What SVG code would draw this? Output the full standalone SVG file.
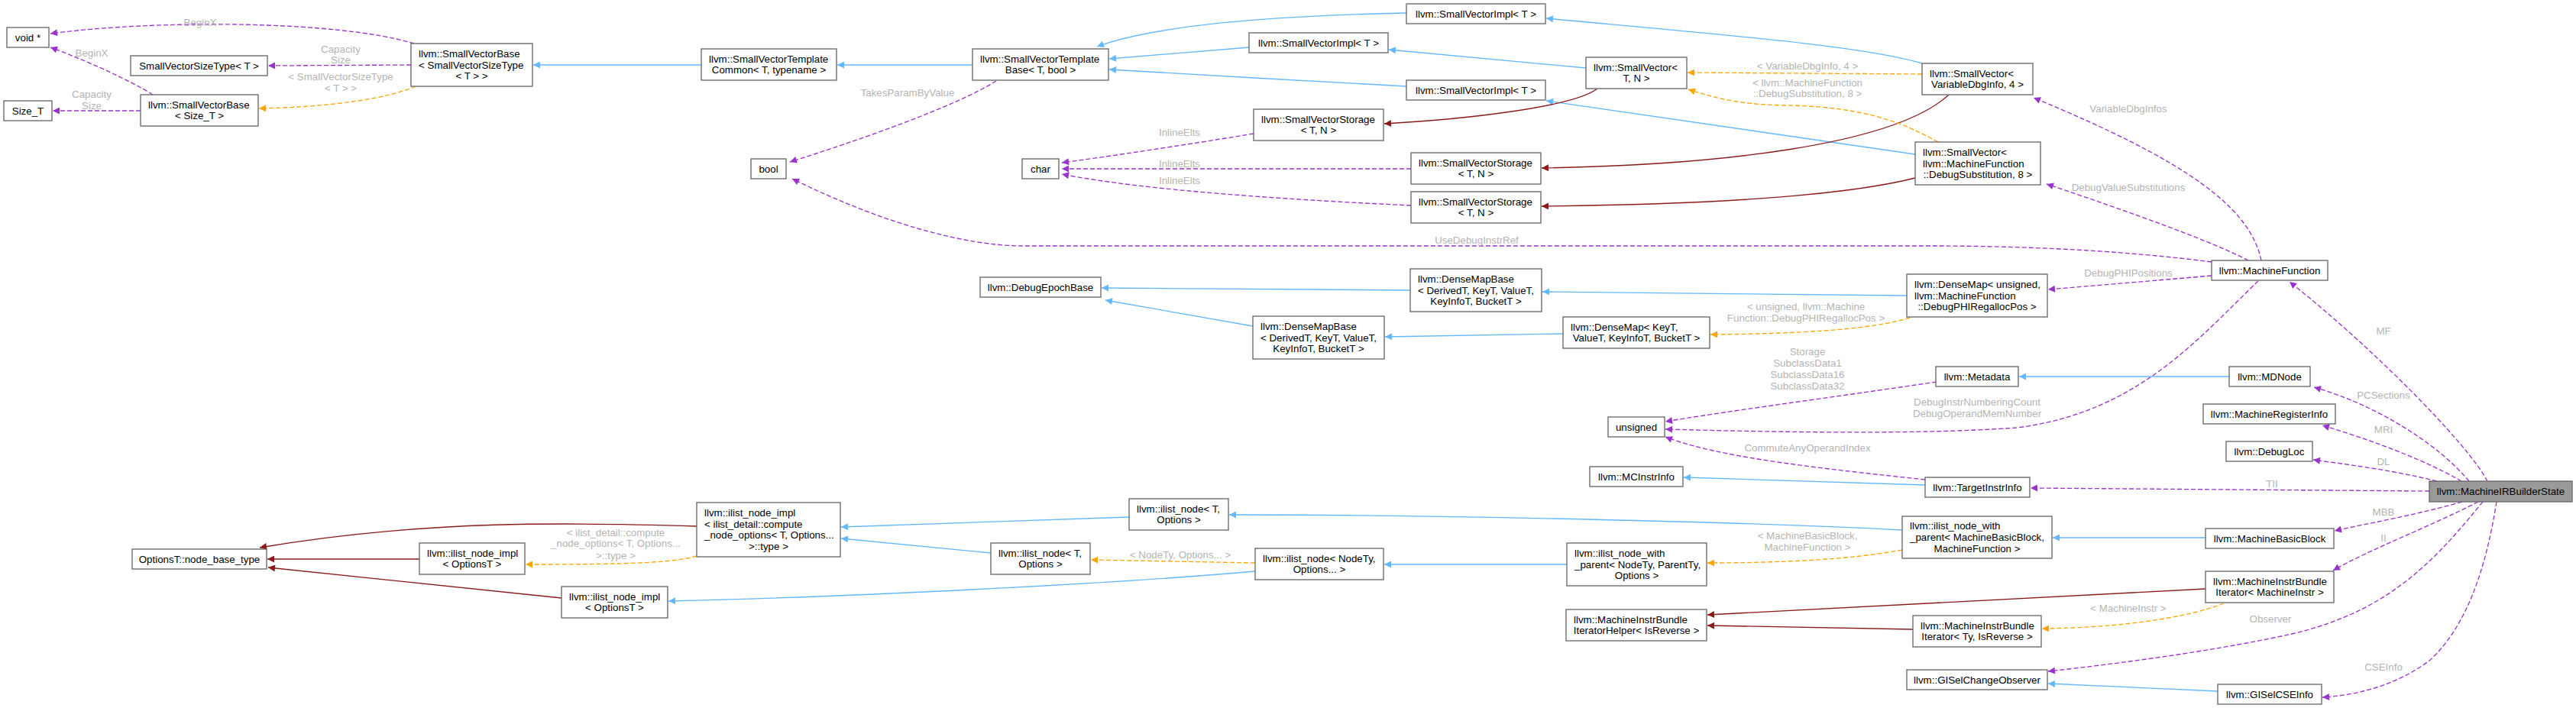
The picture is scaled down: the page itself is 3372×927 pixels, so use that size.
<svg xmlns="http://www.w3.org/2000/svg" width="3372" height="927" viewBox="0 0 3372 927">
<style>
text{font-family:"Liberation Sans",Arial,Helvetica,sans-serif;font-size:13.33px;fill:#000}
.c{text-anchor:middle}
.l{fill:#b4b4b4;text-anchor:middle}
.n rect{fill:#fff;stroke:#666;stroke-width:1.33}
#root rect{fill:#999}
#edges path{fill:none;stroke-width:1.33}
.b{stroke:#63b8ff;marker-end:url(#mb)}
.r{stroke:#8b1a1a;marker-end:url(#mr)}
.o{stroke:#ffa500;stroke-dasharray:6,3;marker-end:url(#mo)}
.p{stroke:#9a32cd;stroke-dasharray:6,3;marker-end:url(#mp)}
</style>
<defs>
<marker id="mb" viewBox="0 0 10 10" refX="10" refY="5" markerWidth="13" markerHeight="9" markerUnits="userSpaceOnUse" orient="auto"><path d="M0,0L10,5L0,10z" fill="#63b8ff"/></marker>
<marker id="mr" viewBox="0 0 10 10" refX="10" refY="5" markerWidth="13" markerHeight="9" markerUnits="userSpaceOnUse" orient="auto"><path d="M0,0L10,5L0,10z" fill="#8b1a1a"/></marker>
<marker id="mo" viewBox="0 0 10 10" refX="10" refY="5" markerWidth="13" markerHeight="9" markerUnits="userSpaceOnUse" orient="auto"><path d="M0,0L10,5L0,10z" fill="#ffa500"/></marker>
<marker id="mp" viewBox="0 0 10 10" refX="10" refY="5" markerWidth="13" markerHeight="9" markerUnits="userSpaceOnUse" orient="auto"><path d="M0,0L10,5L0,10z" fill="#9a32cd"/></marker>
</defs>
<rect width="3372" height="927" fill="#fff"/>
<g id="edges">
<path class="p" d="M542,57 C440,26 200,26 66,44"/><text class="l" x="262" y="33.5">BeginX</text>
<path class="p" d="M200,124 C170,105 110,78 66,62"/><text class="l" x="120" y="73.5">BeginX</text>
<path class="p" d="M538,85 L351,86"/><text class="l" x="446" y="68.5">Capacity</text><text class="l" x="446" y="83.2">Size</text>
<path class="o" d="M544,113 C505,130 430,140 339,142"/><text class="l" x="446" y="104.5">&lt; SmallVectorSizeType</text><text class="l" x="446" y="119.5">&lt; T &gt; &gt;</text>
<path class="p" d="M184,145 L69,145"/><text class="l" x="120" y="127.5">Capacity</text><text class="l" x="120" y="142.5">Size</text>
<path class="b" d="M918,85 L698,85"/>
<path class="b" d="M1273,85 L1096,85"/>
<path class="b" d="M1841,17 C1700,20 1520,30 1436,61"/>
<path class="b" d="M1635,62 L1452,77"/>
<path class="b" d="M1841,113 C1750,108 1550,97 1452,91"/>
<path class="b" d="M2076,89 L1818,65"/>
<path class="b" d="M2516,83 C2440,60 2250,45 2024,24"/>
<path class="b" d="M2507,202 L2024,132"/>
<path class="r" d="M2091,116 C2060,140 1920,156 1812,162"/>
<path class="r" d="M2551,124 C2480,190 2250,216 2018,220"/>
<path class="r" d="M2507,233 C2400,260 2200,268 2018,270"/>
<path class="o" d="M2516,97 L2209,95"/><text class="l" x="2366" y="90.5">&lt; VariableDbgInfo, 4 &gt;</text>
<path class="o" d="M2537,186 C2490,160 2440,140 2340,138 C2280,137 2250,130 2210,117"/><text class="l" x="2366" y="112.5">&lt; llvm::MachineFunction</text><text class="l" x="2366" y="127.2">::DebugSubstitution, 8 &gt;</text>
<path class="p" d="M1641,175 C1550,190 1450,205 1390,213"/><text class="l" x="1544" y="177.5">InlineElts</text>
<path class="p" d="M1847,221 L1390,221"/><text class="l" x="1544" y="218.5">InlineElts</text>
<path class="p" d="M1847,269 C1700,262 1500,250 1390,228"/><text class="l" x="1544" y="241.2">InlineElts</text>
<path class="p" d="M1304,106 C1250,140 1120,185 1034,212"/><text class="l" x="1188" y="126.2">TakesParamByValue</text>
<path class="p" d="M2895,343 C2780,328 2650,322 2530,322 L1340,322 C1260,322 1150,290 1037,234"/><text class="l" x="1933" y="319.2">UseDebugInstrRef</text>
<path class="b" d="M1846,380 L1442,377"/>
<path class="b" d="M1640,427 L1447,393"/>
<path class="b" d="M2496,387 L2019,382"/>
<path class="b" d="M2046,437 L1813,441"/>
<path class="o" d="M2500,416 C2450,432 2350,437 2239,438"/><text class="l" x="2364" y="406.2">&lt; unsigned, llvm::Machine</text><text class="l" x="2364" y="421.2">Function::DebugPHIRegallocPos &gt;</text>
<path class="p" d="M2895,361 L2681,379"/><text class="l" x="2786" y="362.2">DebugPHIPositions</text>
<path class="p" d="M2960,341 C2945,270 2860,210 2662,128"/><text class="l" x="2786" y="147.2">VariableDbgInfos</text>
<path class="p" d="M2943,341 C2900,318 2790,278 2679,241"/><text class="l" x="2786" y="250.2">DebugValueSubstitutions</text>
<path class="p" d="M2535,500 C2400,520 2250,540 2180,552"/><text class="l" x="2366" y="465.2">Storage</text><text class="l" x="2366" y="480.2">SubclassData1</text><text class="l" x="2366" y="495.2">SubclassData16</text><text class="l" x="2366" y="510.2">SubclassData32</text>
<path class="p" d="M2956,368 C2880,440 2800,540 2640,560 C2500,570 2300,565 2180,562"/><text class="l" x="2588" y="531.2">DebugInstrNumberingCount</text><text class="l" x="2588" y="546.2">DebugOperandMemNumber</text>
<path class="p" d="M2520,628 C2400,615 2250,600 2180,572"/><text class="l" x="2366" y="591.2">CommuteAnyOperandIndex</text>
<path class="b" d="M2520,635 L2204,625"/>
<path class="b" d="M2918,493 L2643,493"/>
<path class="p" d="M3256,630 C3230,580 3100,450 2997,369"/><text class="l" x="3120" y="437.5">MF</text>
<path class="p" d="M3232,630 C3190,580 3110,530 3029,507"/><text class="l" x="3120" y="522.2">PCSections</text>
<path class="p" d="M3222,630 C3170,600 3100,575 3040,557"/><text class="l" x="3120" y="567.2">MRI</text>
<path class="p" d="M3190,630 C3130,615 3070,608 3028,602"/><text class="l" x="3120" y="608.8">DL</text>
<path class="p" d="M3180,643 L2658,639"/><text class="l" x="2974" y="637.8">TII</text>
<path class="p" d="M3223,657 C3160,675 3100,685 3056,695"/><text class="l" x="3120" y="675.2">MBB</text>
<path class="p" d="M3244,657 C3180,690 3100,720 3054,747"/><text class="l" x="3120" y="708.8">II</text>
<path class="p" d="M3250,657 C3190,730 3130,800 3000,830 C2900,852 2780,868 2681,879"/><text class="l" x="2972" y="814.5">Observer</text>
<path class="p" d="M3268,657 C3255,740 3230,820 3180,865 C3140,895 3090,910 3040,913"/><text class="l" x="3120" y="877.8">CSEInfo</text>
<path class="b" d="M2887,704 L2687,704"/>
<path class="r" d="M2887,771 L2235,805"/>
<path class="o" d="M2911,790 C2860,810 2770,822 2673,823"/><text class="l" x="2786" y="801.2">&lt; MachineInstr &gt;</text>
<path class="r" d="M2504,824 L2235,819"/>
<path class="b" d="M2903,905 L2681,895"/>
<path class="o" d="M2490,720 C2420,733 2330,737 2235,737"/><text class="l" x="2366" y="706.2">&lt; MachineBasicBlock,</text><text class="l" x="2366" y="721.2">MachineFunction &gt;</text>
<path class="b" d="M2490,694 C2300,684 1900,674 1609,674"/>
<path class="b" d="M2051,739 L1812,739"/>
<path class="o" d="M1643,737 L1428,733"/><text class="l" x="1545" y="731.2">&lt; NodeTy, Options... &gt;</text>
<path class="b" d="M1643,748 C1450,765 1100,782 875,787"/>
<path class="b" d="M1478,677 L1101,690"/>
<path class="b" d="M1297,724 L1101,705"/>
<path class="r" d="M912,689 C750,684 560,680 340,717"/>
<path class="r" d="M549,732 L350,732"/>
<path class="r" d="M735,783 L351,743"/>
<path class="o" d="M912,728 C880,738 800,739 688,739"/><text class="l" x="806" y="701.8">&lt; ilist_detail::compute</text><text class="l" x="806" y="716.2">_node_options&lt; T, Options...</text><text class="l" x="806" y="731.8">&gt;::type &gt;</text>
</g>
<g id="n1" class="n"><rect x="9" y="36" width="55" height="26"/><text class="c" x="36.5" y="53.5">void *</text></g>
<g id="n2" class="n"><rect x="171" y="73" width="179" height="26"/><text class="c" x="260.5" y="90.5">SmallVectorSizeType&lt; T &gt;</text></g>
<g id="n3" class="n"><rect x="538" y="57" width="159" height="56"/><text x="548" y="74.8">llvm::SmallVectorBase</text><text x="548" y="89.5">&lt; SmallVectorSizeType</text><text class="c" x="617.5" y="104.2">&lt; T &gt; &gt;</text></g>
<g id="n4" class="n"><rect x="5" y="132" width="63" height="26"/><text class="c" x="36.5" y="149.5">Size_T</text></g>
<g id="n5" class="n"><rect x="184" y="124" width="154" height="41"/><text x="194" y="141.5">llvm::SmallVectorBase</text><text class="c" x="261" y="156.2">&lt; Size_T &gt;</text></g>
<g id="n6" class="n"><rect x="918" y="64" width="177" height="41"/><text x="928" y="81.5">llvm::SmallVectorTemplate</text><text class="c" x="1006.5" y="96.2">Common&lt; T, typename &gt;</text></g>
<g id="n7" class="n"><rect x="1273" y="64" width="178" height="41"/><text x="1283" y="81.5">llvm::SmallVectorTemplate</text><text class="c" x="1362" y="96.2">Base&lt; T, bool &gt;</text></g>
<g id="n8" class="n"><rect x="983" y="208" width="46" height="26"/><text class="c" x="1006" y="225.5">bool</text></g>
<g id="n9" class="n"><rect x="1338" y="208" width="48" height="26"/><text class="c" x="1362" y="225.5">char</text></g>
<g id="n10" class="n"><rect x="1841" y="5" width="182" height="26"/><text class="c" x="1932" y="22.5">llvm::SmallVectorImpl&lt; T &gt;</text></g>
<g id="n11" class="n"><rect x="1635" y="43" width="182" height="26"/><text class="c" x="1726" y="60.5">llvm::SmallVectorImpl&lt; T &gt;</text></g>
<g id="n12" class="n"><rect x="1841" y="105" width="182" height="26"/><text class="c" x="1932" y="122.5">llvm::SmallVectorImpl&lt; T &gt;</text></g>
<g id="n13" class="n"><rect x="2076" y="75" width="132" height="41"/><text x="2086" y="92.5">llvm::SmallVector&lt;</text><text class="c" x="2142" y="107.2">T, N &gt;</text></g>
<g id="n14" class="n"><rect x="1641" y="143" width="170" height="41"/><text x="1651" y="160.5">llvm::SmallVectorStorage</text><text class="c" x="1726" y="175.2">&lt; T, N &gt;</text></g>
<g id="n15" class="n"><rect x="1847" y="200" width="170" height="41"/><text x="1857" y="217.5">llvm::SmallVectorStorage</text><text class="c" x="1932" y="232.2">&lt; T, N &gt;</text></g>
<g id="n16" class="n"><rect x="1847" y="251" width="170" height="41"/><text x="1857" y="268.5">llvm::SmallVectorStorage</text><text class="c" x="1932" y="283.2">&lt; T, N &gt;</text></g>
<g id="n17" class="n"><rect x="2516" y="83" width="145" height="41"/><text x="2526" y="100.5">llvm::SmallVector&lt;</text><text class="c" x="2588.5" y="115.2">VariableDbgInfo, 4 &gt;</text></g>
<g id="n18" class="n"><rect x="2507" y="186" width="164" height="56"/><text x="2517" y="203.8">llvm::SmallVector&lt;</text><text x="2517" y="218.5">llvm::MachineFunction</text><text class="c" x="2589" y="233.2">::DebugSubstitution, 8 &gt;</text></g>
<g id="n19" class="n"><rect x="2895" y="341" width="152" height="26"/><text class="c" x="2971" y="358.5">llvm::MachineFunction</text></g>
<g id="n20" class="n"><rect x="2496" y="359" width="184" height="56"/><text x="2506" y="376.8">llvm::DenseMap&lt; unsigned,</text><text x="2506" y="391.5">llvm::MachineFunction</text><text class="c" x="2588" y="406.2">::DebugPHIRegallocPos &gt;</text></g>
<g id="n21" class="n"><rect x="1283" y="363" width="158" height="26"/><text class="c" x="1362" y="380.5">llvm::DebugEpochBase</text></g>
<g id="n22" class="n"><rect x="1846" y="352" width="172" height="56"/><text x="1856" y="369.8">llvm::DenseMapBase</text><text x="1856" y="384.5">&lt; DerivedT, KeyT, ValueT,</text><text class="c" x="1932" y="399.2">KeyInfoT, BucketT &gt;</text></g>
<g id="n23" class="n"><rect x="1640" y="414" width="172" height="56"/><text x="1650" y="431.8">llvm::DenseMapBase</text><text x="1650" y="446.5">&lt; DerivedT, KeyT, ValueT,</text><text class="c" x="1726" y="461.2">KeyInfoT, BucketT &gt;</text></g>
<g id="n24" class="n"><rect x="2046" y="415" width="192" height="41"/><text x="2056" y="432.5">llvm::DenseMap&lt; KeyT,</text><text class="c" x="2142" y="447.2">ValueT, KeyInfoT, BucketT &gt;</text></g>
<g id="n25" class="n"><rect x="2534" y="480" width="108" height="26"/><text class="c" x="2588" y="497.5">llvm::Metadata</text></g>
<g id="n26" class="n"><rect x="2918" y="480" width="106" height="26"/><text class="c" x="2971" y="497.5">llvm::MDNode</text></g>
<g id="n27" class="n"><rect x="2105" y="546" width="74" height="26"/><text class="c" x="2142" y="563.5">unsigned</text></g>
<g id="n28" class="n"><rect x="2884" y="529" width="173" height="26"/><text class="c" x="2970.5" y="546.5">llvm::MachineRegisterInfo</text></g>
<g id="n29" class="n"><rect x="2914" y="578" width="113" height="26"/><text class="c" x="2970.5" y="595.5">llvm::DebugLoc</text></g>
<g id="n30" class="n"><rect x="2081" y="611" width="122" height="26"/><text class="c" x="2142" y="628.5">llvm::MCInstrInfo</text></g>
<g id="n31" class="n"><rect x="2520" y="625" width="137" height="26"/><text class="c" x="2588.5" y="642.5">llvm::TargetInstrInfo</text></g>
<g id="root" class="n"><rect x="3180" y="630" width="187" height="27"/><text class="c" x="3273.5" y="648">llvm::MachineIRBuilderState</text></g>
<g id="n33" class="n"><rect x="173" y="719" width="176" height="26"/><text class="c" x="261" y="736.5">OptionsT::node_base_type</text></g>
<g id="n34" class="n"><rect x="549" y="711" width="138" height="41"/><text x="559" y="728.5">llvm::ilist_node_impl</text><text class="c" x="618" y="743.2">&lt; OptionsT &gt;</text></g>
<g id="n35" class="n"><rect x="735" y="768" width="139" height="41"/><text x="745" y="785.5">llvm::ilist_node_impl</text><text class="c" x="804.5" y="800.2">&lt; OptionsT &gt;</text></g>
<g id="n36" class="n"><rect x="912" y="658" width="188" height="71"/><text x="922" y="676">llvm::ilist_node_impl</text><text x="922" y="690.7">&lt; ilist_detail::compute</text><text x="922" y="705.4">_node_options&lt; T, Options...</text><text class="c" x="1006" y="720.1">&gt;::type &gt;</text></g>
<g id="n37" class="n"><rect x="1478" y="653" width="130" height="41"/><text x="1488" y="670.5">llvm::ilist_node&lt; T,</text><text class="c" x="1543" y="685.2">Options &gt;</text></g>
<g id="n38" class="n"><rect x="1297" y="711" width="130" height="41"/><text x="1307" y="728.5">llvm::ilist_node&lt; T,</text><text class="c" x="1362" y="743.2">Options &gt;</text></g>
<g id="n39" class="n"><rect x="1643" y="718" width="168" height="41"/><text x="1653" y="735.5">llvm::ilist_node&lt; NodeTy,</text><text class="c" x="1727" y="750.2">Options... &gt;</text></g>
<g id="n40" class="n"><rect x="2051" y="711" width="183" height="56"/><text x="2061" y="728.8">llvm::ilist_node_with</text><text x="2061" y="743.5">_parent&lt; NodeTy, ParentTy,</text><text class="c" x="2142.5" y="758.2">Options &gt;</text></g>
<g id="n41" class="n"><rect x="2490" y="676" width="196" height="55"/><text x="2500" y="693.3">llvm::ilist_node_with</text><text x="2500" y="708">_parent&lt; MachineBasicBlock,</text><text class="c" x="2588" y="722.7">MachineFunction &gt;</text></g>
<g id="n42" class="n"><rect x="2887" y="692" width="168" height="26"/><text class="c" x="2971" y="709.5">llvm::MachineBasicBlock</text></g>
<g id="n43" class="n"><rect x="2050" y="798" width="184" height="41"/><text x="2060" y="815.5">llvm::MachineInstrBundle</text><text class="c" x="2142" y="830.2">IteratorHelper&lt; IsReverse &gt;</text></g>
<g id="n44" class="n"><rect x="2887" y="748" width="168" height="41"/><text x="2897" y="765.5">llvm::MachineInstrBundle</text><text class="c" x="2971" y="780.2">Iterator&lt; MachineInstr &gt;</text></g>
<g id="n45" class="n"><rect x="2504" y="806" width="168" height="41"/><text x="2514" y="823.5">llvm::MachineInstrBundle</text><text class="c" x="2588" y="838.2">Iterator&lt; Ty, IsReverse &gt;</text></g>
<g id="n46" class="n"><rect x="2496" y="877" width="184" height="26"/><text class="c" x="2588" y="894.5">llvm::GISelChangeObserver</text></g>
<g id="n47" class="n"><rect x="2903" y="896" width="136" height="26"/><text class="c" x="2971" y="913.5">llvm::GISelCSEInfo</text></g>
</svg>
